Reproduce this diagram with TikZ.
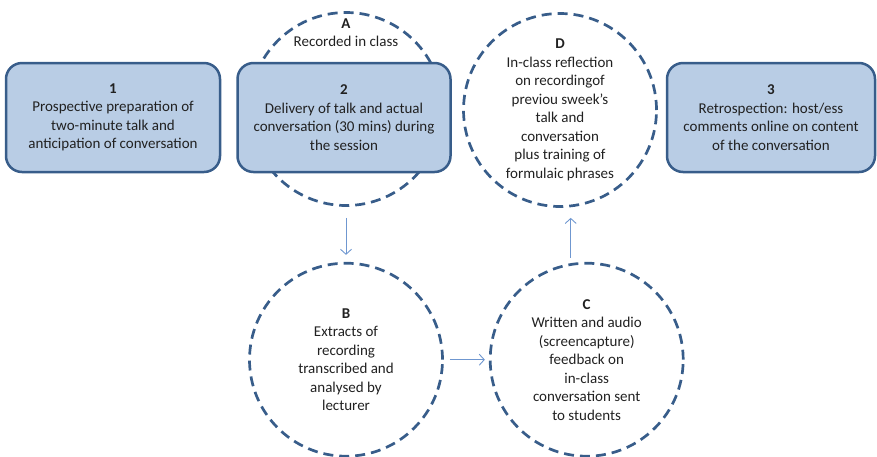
\documentclass[tikz,border=0pt]{standalone}
\usepackage{fontspec}
\setmainfont{Carlito}
\usetikzlibrary{positioning,arrows.meta}

\definecolor{boxfill}{RGB}{185,205,229}
\definecolor{boxline}{RGB}{56,93,138}
\definecolor{flowline}{RGB}{111,151,208}
\definecolor{txt}{RGB}{33,33,33}

\begin{document}
\begin{tikzpicture}[x=1pt,y=-1pt,
  note/.style={align=center, text=txt, font=\fontsize{15}{18.5}\selectfont},
  stage/.style={note, draw=boxline, fill=boxfill, line width=2.5pt,
    rounded corners=16pt, minimum height=109pt},
  phase/.style={note, circle, draw=boxline, line width=2.7pt,
    dash pattern=on 10pt off 6pt, minimum size=193pt, inner sep=0pt},
  flow/.style={draw=flowline, line width=0.9pt,
    -{Straight Barb[length=5pt,width=11pt]}}]

  \useasboundingbox (0,0) rectangle (877,456);

  % Circles (A sits behind stage 2)

  \node[phase] (A) at (346,109) {} ;
  \node[phase] (D) at (560,110) {\textbf{D}\\In-class reflection\\on recordingof\\previou sweek’s\\talk and\\conversation\\plus training of\\formulaic phrases} ; %
  \node[phase, below=55pt of A] (B) {\textbf{B}\\Extracts of\\recording\\transcribed and\\analysed by\\lecturer} ; %
  \node[phase, right=45pt of B] (C) {\textbf{C}\\Written and audio\\(screencapture)\\feedback on\\in-class\\conversation sent\\to students} ; %

  % Stages

  \node[stage, minimum width=214pt] (s1) at (113,117.5) {\textbf{1}\\Prospective preparation of\\two-minute talk and\\anticipation of conversation} ; %
  \node[stage, minimum width=213pt, right=15pt of s1] (s2) {\textbf{2}\\Delivery of talk and actual\\conversation (30 mins) during\\the session} ; %
  \node[stage, minimum width=208pt] (s3) at (771,117.5) {\textbf{3}\\Retrospection: host/ess\\comments online on content\\of the conversation} ; %

  \node[note, below=4pt of A.north] (Alabel) {\textbf{A}\\Recorded in class} ; %

  % Flow between circles

  \draw[flow, shorten <=11pt, shorten >=7pt] (A) -- (B) ; %
  \draw[flow, shorten <=6pt, shorten >=4pt] (B) -- (C) ; %
  \draw[flow, shorten <=4pt, shorten >=10pt] ([xshift=-16pt]C.north) -- ([xshift=-16pt]C.north |- D.south) ; %

\end{tikzpicture}
\end{document}
